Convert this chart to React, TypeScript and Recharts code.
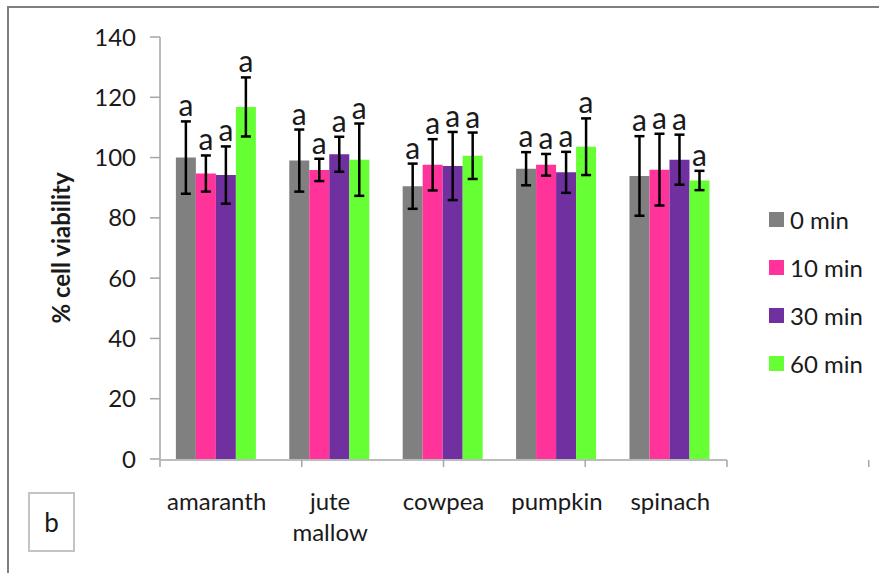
import React from 'react';
import { ComposedChart, Bar, XAxis, YAxis, ErrorBar, LabelList, Legend } from 'recharts';

const categories = ['amaranth', 'jute mallow', 'cowpea', 'pumpkin', 'spinach'];
const tickLabels = [['amaranth'], ['jute', 'mallow'], ['cowpea'], ['pumpkin'], ['spinach']];

const min0 = [100, 99, 90.5, 96.3, 93.9];
const min0Err = [12, 10.3, 7.5, 5.5, 13.2];
const min10 = [94.7, 95.9, 97.6, 97.6, 96];
const min10Err = [6, 3.7, 8.5, 3.6, 11.9];
const min30 = [94.2, 101.1, 97.2, 95.1, 99.3];
const min30Err = [9.5, 5.8, 11.3, 6.8, 8.3];
const min60 = [116.8, 99.3, 100.6, 103.6, 92.4];
const min60Err = [9.8, 12, 7.7, 9.4, 3.2];
const sigLetters = ['a', 'a', 'a', 'a', 'a'];

const yTicks = [0, 20, 40, 60, 80, 100, 120, 140];
const boundaryTicks = [0, 1, 2, 3, 4, 5];

const FONT = 'Lato, sans-serif';

const series = [
  { key: 'min0', name: '0 min', color: '#808080', err: min0Err },
  { key: 'min10', name: '10 min', color: '#FF3399', err: min10Err },
  { key: 'min30', name: '30 min', color: '#7030A0', err: min30Err },
  { key: 'min60', name: '60 min', color: '#66FF33', err: min60Err },
];

const data = categories.map((name, i) => ({
  name,
  min0: min0[i],
  min0Err: min0Err[i],
  min10: min10[i],
  min10Err: min10Err[i],
  min30: min30[i],
  min30Err: min30Err[i],
  min60: min60[i],
  min60Err: min60Err[i],
}));

// letter sits just above the top of the error bar
const letterLabel = (errs: number[]) => (props: any) => {
  const { x, y, width, height, value, index } = props;
  if (!value) return null;
  const pxPerUnit = Number(height) / Number(value);
  const errTop = Number(y) - errs[index] * pxPerUnit;
  return (
    <text
      x={Number(x) + Number(width) / 2}
      y={errTop - 5}
      textAnchor="middle"
      fontFamily={FONT}
      fontSize={30}
      fill="#1a1a1a"
    >
      {sigLetters[index]}
    </text>
  );
};

const renderCategoryTick = (props: any) => {
  const { x, y, payload } = props;
  const i = categories.indexOf(payload.value);
  const lines = tickLabels[i] || [String(payload.value)];
  return (
    <g>
      {lines.map((l, k) => (
        <text
          key={l}
          x={x}
          y={Number(y) + 51 + k * 31}
          textAnchor="middle"
          fontFamily={FONT}
          fontSize={24}
          fill="#1a1a1a"
        >
          {l}
        </text>
      ))}
    </g>
  );
};

const emptyTick = () => <g />;

const renderLegend = () => (
  <div style={{ fontFamily: FONT, fontSize: 24, color: '#1a1a1a' }}>
    {series.map((s) => (
      <div key={s.key} style={{ display: 'flex', alignItems: 'center', height: 48 }}>
        <span style={{ width: 15, height: 15, background: s.color, marginRight: 6 }} />
        <span>{s.name}</span>
      </div>
    ))}
  </div>
);

const YLabel = (props: any) => {
  const { viewBox } = props;
  const cx = viewBox.x - 40;
  const cy = viewBox.y + viewBox.height / 2;
  return (
    <text
      x={cx}
      y={cy}
      transform={`rotate(-90, ${cx}, ${cy})`}
      textAnchor="middle"
      dominantBaseline="central"
      fontFamily={FONT}
      fontWeight="bold"
      fontSize={24}
      fill="#1a1a1a"
    >
      % cell viability
    </text>
  );
};

export default function App() {
  return (
    <div style={{ position: 'absolute', left: 0, top: 0, width: 879, height: 573, background: '#fff', overflow: 'hidden' }}>
      <div
        style={{
          position: 'absolute',
          left: 7,
          top: 6,
          right: -10,
          bottom: -10,
          borderLeft: '2px solid #7f7f7f',
          borderTop: '2px solid #7f7f7f',
        }}
      />
      <ComposedChart
        width={879}
        height={573}
        data={data}
        margin={{ top: 37, right: 152, bottom: 112, left: 100 }}
        barCategoryGap="14%"
        barGap={0}
        style={{ position: 'absolute', left: 0, top: 0 }}
      >
        <XAxis
          xAxisId="grid"
          type="number"
          domain={[0, 5]}
          ticks={boundaryTicks}
          tick={emptyTick}
          tickSize={7}
          height={1}
          stroke="#a6a6a6"
          strokeWidth={1.5}
        />
        <XAxis
          xAxisId="cat"
          dataKey="name"
          height={1}
          axisLine={false}
          tickLine={false}
          tickSize={0}
          tickMargin={0}
          interval={0}
          tick={renderCategoryTick}
        />
        <YAxis
          width={60}
          domain={[0, 140]}
          ticks={yTicks}
          tickSize={10}
          tickMargin={14}
          stroke="#a6a6a6"
          strokeWidth={1.5}
          tick={{ fontFamily: FONT, fontSize: 24, fill: '#1a1a1a' }}
          label={<YLabel />}
        />
        <Legend
          layout="vertical"
          align="center"
          verticalAlign="middle"
          content={renderLegend}
          wrapperStyle={{ left: 769, top: 195, width: 110 }}
        />
        {series.map((s) => (
          <Bar key={s.key} xAxisId="cat" dataKey={s.key} name={s.name} fill={s.color} isAnimationActive={false}>
            <ErrorBar dataKey={`${s.key}Err`} width={5} stroke="#000" strokeWidth={2.5} isAnimationActive={false} />
            <LabelList dataKey={s.key} content={letterLabel(s.err)} />
          </Bar>
        ))}
      </ComposedChart>
      <div
        style={{
          position: 'absolute',
          left: 28,
          top: 492,
          width: 43,
          height: 56,
          border: '2px solid #c4c4c4',
          display: 'flex',
          alignItems: 'center',
          justifyContent: 'center',
          fontFamily: FONT,
          fontSize: 26,
          color: '#1a1a1a',
        }}
      >
        b
      </div>
    </div>
  );
}
